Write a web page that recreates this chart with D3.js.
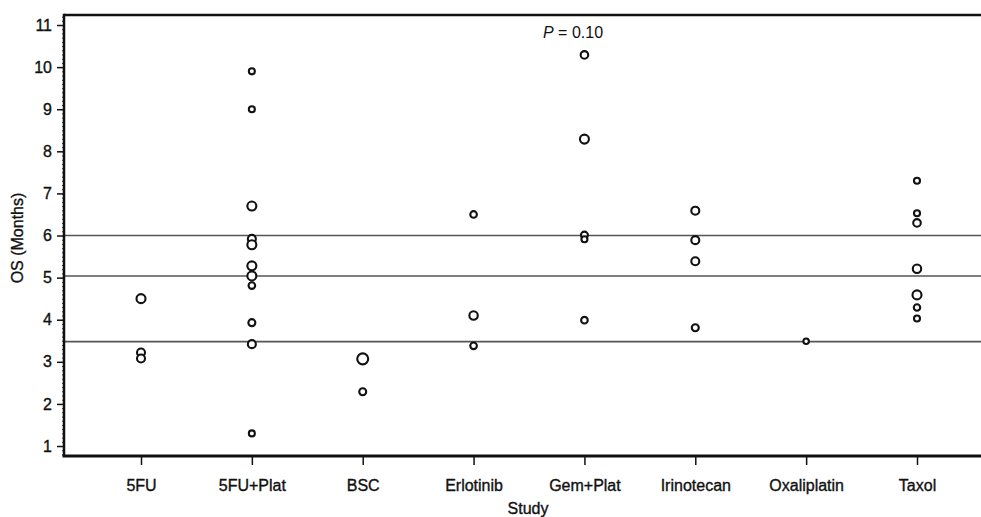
<!DOCTYPE html>
<html>
<head>
<meta charset="utf-8">
<script src="https://cdn.jsdelivr.net/npm/d3@7"></script>
<style>
  html, body { margin: 0; background: #fff; overflow: hidden; }
  #chart { width: 981px; height: 517px; overflow: hidden; }
  svg { display: block; }
  svg text { font-family: "Liberation Sans", Arial, sans-serif; fill: #111; }
  .lbl { stroke: #111; stroke-width: 0.35px; }
</style>
</head>
<body>
<div id="chart"></div>
<script>
// study arms on the x axis
var categories = ["5FU", "5FU+Plat", "BSC", "Erlotinib", "Gem+Plat", "Irinotecan", "Oxaliplatin", "Taxol"];

// median OS (months) per study, one list per arm
var osMonths = [
    [4.5, 3.22, 3.08],
    [9.9, 9.0, 6.7, 5.92, 5.78, 5.28, 5.04, 4.81, 3.93, 3.42, 1.3],
    [3.07, 2.29],
    [6.5, 4.1, 3.38],
    [10.29, 8.29, 6.01, 5.91, 3.99],
    [6.59, 5.89, 5.39, 3.81],
    [3.49],
    [7.3, 6.53, 6.3, 5.21, 4.59, 4.29, 4.03]
];

// study size (weights the circle size)
var studySize = [
    [134, 106, 106],
    [60, 60, 134, 106, 134, 134, 134, 72, 81, 106, 60],
    [200, 81],
    [72, 117, 72],
    [95, 134, 81, 60, 72],
    [106, 106, 106, 81],
    [50],
    [60, 60, 95, 117, 134, 68, 60]
];

// horizontal reference lines
var refLines = [3.48, 5.04, 6.0];

var yTicks = [1, 2, 3, 4, 5, 6, 7, 8, 9, 10, 11];
var pLabel = "0.10";

var width = 981, height = 517;
var margin = {top: 15, right: 0, bottom: 61, left: 64};

var svg = d3.select("#chart").append("svg")
    .attr("width", width)
    .attr("height", height);

var plotL = margin.left, plotR = width - margin.right,
    plotT = margin.top, plotB = height - margin.bottom;

var x = d3.scalePoint()
    .domain(categories)
    .range([141, 917]);

var y = d3.scaleLinear()
    .domain([0.763, 11.238])
    .range([plotB, plotT]);

var r = d3.scaleSqrt()
    .domain([0, 200])
    .range([0, 5.5]);

// reference lines
svg.selectAll(".ref")
    .data(refLines)
    .enter().append("line")
    .attr("class", "ref")
    .attr("x1", plotL).attr("x2", plotR)
    .attr("y1", function(d) { return y(d); })
    .attr("y2", function(d) { return y(d); })
    .attr("stroke", "#555")
    .attr("stroke-width", 1.6);

// points
var pts = [];
categories.forEach(function(c, i) {
    osMonths[i].forEach(function(v, j) {
        pts.push({cat: c, os: v, n: studySize[i][j]});
    });
});

svg.selectAll(".pt")
    .data(pts)
    .enter().append("circle")
    .attr("class", "pt")
    .attr("cx", function(d) { return x(d.cat); })
    .attr("cy", function(d) { return y(d.os); })
    .attr("r", function(d) { return r(d.n); })
    .attr("fill", "#fff")
    .attr("stroke", "#111")
    .attr("stroke-width", 2.1);

// y axis with minor ticks
svg.append("g")
    .attr("transform", "translate(" + plotL + ",0)")
    .call(d3.axisLeft(y).tickValues(d3.range(0.8, 11.21, 0.1)).tickSize(2).tickFormat(""))
    .call(function(g) { g.select(".domain").remove(); g.selectAll("line").attr("stroke", "#333"); });

var yAxis = svg.append("g")
    .attr("transform", "translate(" + plotL + ",0)")
    .call(d3.axisLeft(y).tickValues(yTicks).tickSize(7).tickPadding(5).tickFormat(d3.format("d")));
yAxis.select(".domain").remove();
yAxis.selectAll("line").attr("stroke", "#111").attr("stroke-width", 1.5);
yAxis.selectAll("text").attr("class", "lbl").style("font-size", "16px").attr("fill", "#111");

// x axis
var xAxis = svg.append("g")
    .attr("transform", "translate(0," + plotB + ")")
    .call(d3.axisBottom(x).tickSize(9).tickPadding(15));
xAxis.select(".domain").remove();
xAxis.selectAll("line").attr("stroke", "#111").attr("stroke-width", 1.5);
xAxis.selectAll("text").attr("class", "lbl").style("font-size", "16px").attr("fill", "#111");

// frame (open on the right, as in the source image)
svg.append("line").attr("x1", plotL).attr("x2", plotR).attr("y1", plotT).attr("y2", plotT)
    .attr("stroke", "#111").attr("stroke-width", 2.5);
svg.append("line").attr("x1", plotL - 1.5).attr("x2", plotR).attr("y1", plotB).attr("y2", plotB)
    .attr("stroke", "#111").attr("stroke-width", 3);
svg.append("line").attr("x1", plotL).attr("x2", plotL).attr("y1", plotT - 1.2).attr("y2", plotB)
    .attr("stroke", "#111").attr("stroke-width", 2.5);

// axis titles
svg.append("text")
    .attr("class", "lbl")
    .attr("x", 528).attr("y", 514)
    .attr("text-anchor", "middle")
    .style("font-size", "16px")
    .text("Study");

svg.append("text")
    .attr("class", "lbl")
    .attr("transform", "translate(23," + 238 + ") rotate(-90)")
    .attr("text-anchor", "middle")
    .style("font-size", "16px")
    .text("OS (Months)");

// p value
var pt = svg.append("text")
    .attr("x", 543).attr("y", 38)
    .style("font-size", "16px");
pt.append("tspan").style("font-style", "italic").text("P");
pt.append("tspan").text(" = " + pLabel);
</script>
</body>
</html>
